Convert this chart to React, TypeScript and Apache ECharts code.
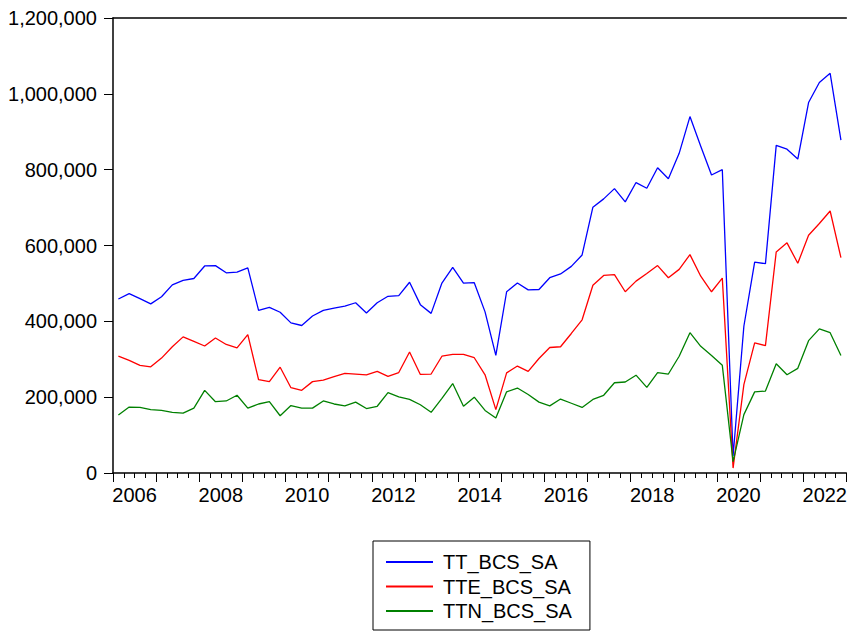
import React, { useEffect, useRef } from "react";
import * as echarts from "echarts";

const seriesNames = ["TT_BCS_SA", "TTE_BCS_SA", "TTN_BCS_SA"];
const seriesColors = ["#0000ff", "#ff0000", "#008000"];

// quarterly, 2006Q1 .. 2022Q4
const firstYear = 2006;
const quarters: string[] = [];
for (let y = 2006; y <= 2022; y++) for (let q = 1; q <= 4; q++) quarters.push(`${y}Q${q}`);

const yearLabels = ["2006", "2008", "2010", "2012", "2014", "2016", "2018", "2020", "2022"];

const ttBcsSa = [
  459000, 473000, 460000, 446000, 465000, 496000, 508000, 513000, 546000, 547000,
  528000, 530000, 541000, 429000, 437000, 424000, 396000, 389000, 414000, 429000,
  435000, 440000, 449000, 422000, 449000, 466000, 468000, 503000, 444000, 421000,
  501000, 542000, 501000, 502000, 425000, 310000, 478000, 501000, 483000, 484000,
  515000, 525000, 545000, 575000, 701000, 723000, 750000, 715000, 766000, 751000,
  805000, 776000, 843000, 940000, 862000, 786000, 800000, 45000, 387000, 556000,
  552000, 864000, 854000, 828000, 977000, 1030000, 1054000, 878000,
];

const tteBcsSa = [
  308000, 297000, 284000, 280000, 303000, 333000, 359000, 347000, 335000, 356000,
  339000, 330000, 365000, 246000, 241000, 279000, 225000, 218000, 241000, 245000,
  254000, 263000, 261000, 259000, 268000, 255000, 265000, 319000, 260000, 261000,
  308000, 313000, 313000, 304000, 259000, 167000, 264000, 282000, 268000, 302000,
  331000, 333000, 368000, 404000, 495000, 521000, 523000, 478000, 506000, 526000,
  547000, 515000, 537000, 576000, 519000, 478000, 514000, 13000, 233000, 343000,
  336000, 583000, 607000, 553000, 627000, 658000, 691000, 568000,
];

const ttnBcsSa = [
  153000, 174000, 173000, 167000, 165000, 160000, 158000, 171000, 218000, 188000,
  190000, 205000, 171000, 182000, 188000, 151000, 178000, 171000, 171000, 190000,
  182000, 177000, 187000, 170000, 176000, 212000, 201000, 194000, 180000, 160000,
  197000, 236000, 176000, 200000, 165000, 145000, 214000, 224000, 207000, 187000,
  177000, 195000, 184000, 173000, 194000, 205000, 238000, 240000, 258000, 226000,
  265000, 261000, 308000, 370000, 334000, 310000, 284000, 30000, 154000, 214000,
  216000, 288000, 259000, 276000, 349000, 380000, 370000, 310000,
];

const yTicks = [0, 200000, 400000, 600000, 800000, 1000000, 1200000];

const FONT = "'Liberation Sans', Arial, Helvetica, sans-serif";

export default function App() {
  const ref = useRef<HTMLDivElement>(null);

  useEffect(() => {
    if (!ref.current) return;
    const chart = echarts.init(ref.current, null, { renderer: "svg" });
    const allSeries = [ttBcsSa, tteBcsSa, ttnBcsSa];
    const n = quarters.length;
    chart.setOption({
      animation: false,
      backgroundColor: "#ffffff",
      textStyle: { fontFamily: FONT },
      grid: {
        show: false,
        left: 113,
        right: 0,
        top: 18,
        bottom: 158,
      },
      legend: {
        orient: "vertical",
        left: 373,
        top: 541,
        icon: "rect",
        itemWidth: 47,
        itemHeight: 2,
        itemGap: 4.5,
        padding: [11, 18, 9, 13],
        borderColor: "#000",
        borderWidth: 1,
        data: seriesNames,
        textStyle: { fontSize: 20, color: "#000", fontFamily: FONT, padding: [0, 0, 0, 5] },
      },
      xAxis: [
        {
          type: "value",
          min: 0,
          max: n,
          interval: 4,
          axisLine: { show: true, onZero: false, lineStyle: { color: "#000", width: 1.5 } },
          axisTick: { show: true, length: 9, lineStyle: { color: "#000", width: 1 } },
          minorTick: { show: true, splitNumber: 4, length: 5, lineStyle: { color: "#000", width: 1 } },
          axisLabel: { show: false },
          splitLine: { show: false },
          minorSplitLine: { show: false },
        },
        {
          type: "value",
          min: 0,
          max: n,
          interval: 2,
          position: "bottom",
          axisLine: { show: false },
          axisTick: { show: false },
          splitLine: { show: false },
          axisLabel: {
            show: true,
            fontSize: 20,
            color: "#000",
            fontFamily: FONT,
            margin: 12,
            showMinLabel: true,
            showMaxLabel: true,
            formatter: (v: number) => {
              const r = Math.round(v);
              if ((r - 2) % 8 !== 0 || r < 2) return "";
              const yr = String(firstYear + (r - 2) / 4);
              return yearLabels.includes(yr) ? yr : "";
            },
          },
        },
        {
          type: "value",
          min: 0,
          max: n,
          position: "top",
          axisLine: { show: true, onZero: false, lineStyle: { color: "#000", width: 1.5 } },
          axisTick: { show: false },
          axisLabel: { show: false },
          splitLine: { show: false },
        },
      ],
      yAxis: {
        type: "value",
        min: yTicks[0],
        max: yTicks[yTicks.length - 1],
        interval: 200000,
        axisLine: { show: true, lineStyle: { color: "#000", width: 1.5 } },
        axisTick: { show: true, length: 9, lineStyle: { color: "#000", width: 1 } },
        splitLine: { show: false },
        axisLabel: {
          fontSize: 20,
          color: "#000",
          fontFamily: FONT,
          margin: 16,
          padding: [0, 0, 6, 0],
          formatter: (v: number) => v.toLocaleString("en-US"),
        },
      },
      series: allSeries.map((arr, k) => ({
        name: seriesNames[k],
        type: "line",
        xAxisIndex: 0,
        symbol: "none",
        showSymbol: false,
        color: seriesColors[k],
        lineStyle: { color: seriesColors[k], width: 1.3 },
        data: arr.map((v, i) => [i + 0.5, v]),
      })),
    });
    return () => chart.dispose();
  }, []);

  return (
    <div
      ref={ref}
      style={{ position: "fixed", left: 0, top: 0, width: 850, height: 631, background: "#fff" }}
    />
  );
}
